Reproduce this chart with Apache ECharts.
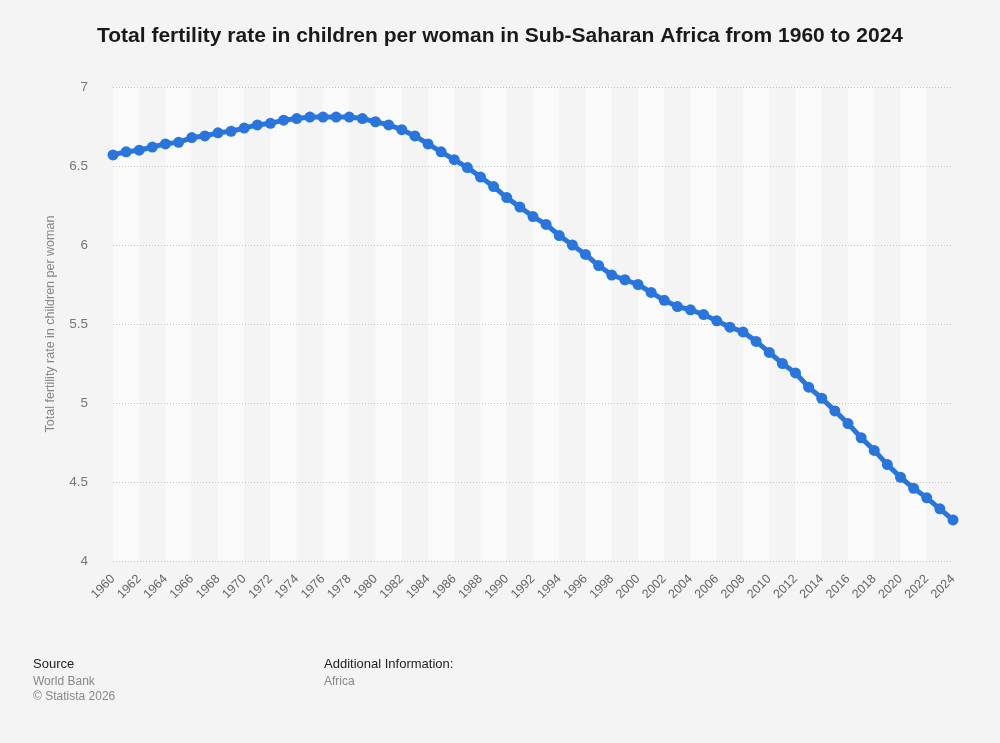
<!DOCTYPE html>
<html>
<head>
<meta charset="utf-8">
<script src="https://cdn.jsdelivr.net/npm/echarts@6/dist/echarts.min.js"></script>
<style>
  html, body { margin: 0; padding: 0; background: #f4f4f4; }
  #chart { width: 1000px; height: 743px; }
</style>
</head>
<body>
<div id="chart"></div>
<script>
// years shown on the x axis
const years = [];
for (let y = 1960; y <= 2024; y++) years.push(String(y));

// total fertility rate, children per woman
const fertility = [
  6.57, 6.59, 6.60, 6.62, 6.64, 6.65, 6.68, 6.69, 6.71, 6.72,
  6.74, 6.76, 6.77, 6.79, 6.80, 6.81, 6.81, 6.81, 6.81, 6.80,
  6.78, 6.76, 6.73, 6.69, 6.64, 6.59, 6.54, 6.49, 6.43, 6.37,
  6.30, 6.24, 6.18, 6.13, 6.06, 6.00, 5.94, 5.87, 5.81, 5.78,
  5.75, 5.70, 5.65, 5.61, 5.59, 5.56, 5.52, 5.48, 5.45, 5.39,
  5.32, 5.25, 5.19, 5.10, 5.03, 4.95, 4.87, 4.78, 4.70, 4.61,
  4.53, 4.46, 4.40, 4.33, 4.26
];

const yTicks = { min: 4, max: 7, step: 0.5 };

const chart = echarts.init(document.getElementById('chart'));
const font = '"Liberation Sans", Arial, sans-serif';

chart.setOption({
  backgroundColor: '#f4f4f4',
  animation: false,
  title: {
    text: 'Total fertility rate in children per woman in Sub-Saharan Africa from 1960 to 2024',
    left: 'center',
    top: 21,
    textStyle: { fontFamily: font, fontSize: 21, fontWeight: 'bold', color: '#1a1a1a' }
  },
  grid: { left: 113, right: 47, top: 87, bottom: 182 },
  xAxis: {
    type: 'category',
    data: years,
    boundaryGap: false,
    z: 0,
    axisLine: { show: false },
    axisTick: { show: false },
    axisLabel: {
      interval: 1,
      rotate: 45,
      margin: 16,
      color: '#666',
      fontFamily: font,
      fontSize: 12.5
    },
    splitArea: {
      show: true,
      interval: 1,
      areaStyle: { color: ['#fafafa', '#f4f4f4'] }
    }
  },
  yAxis: {
    type: 'value',
    min: yTicks.min,
    max: yTicks.max,
    interval: yTicks.step,
    z: 1,
    name: 'Total fertility rate in children per woman',
    nameLocation: 'middle',
    nameGap: 56,
    nameTextStyle: { color: '#888', fontFamily: font, fontSize: 12.5 },
    axisLine: { show: false },
    axisTick: { show: false },
    axisLabel: { color: '#777', fontFamily: font, fontSize: 13.5, margin: 25 },
    splitLine: { lineStyle: { color: '#c4c4c4', type: [1, 2], width: 1 } }
  },
  series: [{
    type: 'line',
    data: fertility,
    z: 3,
    symbol: 'circle',
    symbolSize: 11,
    showAllSymbol: true,
    lineStyle: { color: '#2876dd', width: 5 },
    itemStyle: { color: '#2876dd' }
  }],
  graphic: [
    { type: 'text', left: 33, top: 658, style: { text: 'Source', fill: '#222', font: '13px ' + font } },
    { type: 'text', left: 33, top: 676, style: { text: 'World Bank', fill: '#888', font: '12px ' + font } },
    { type: 'text', left: 33, top: 691, style: { text: '© Statista 2026', fill: '#888', font: '12px ' + font } },
    { type: 'text', left: 324, top: 658, style: { text: 'Additional Information:', fill: '#222', font: '13px ' + font } },
    { type: 'text', left: 324, top: 676, style: { text: 'Africa', fill: '#888', font: '12px ' + font } }
  ]
});
</script>
</body>
</html>
